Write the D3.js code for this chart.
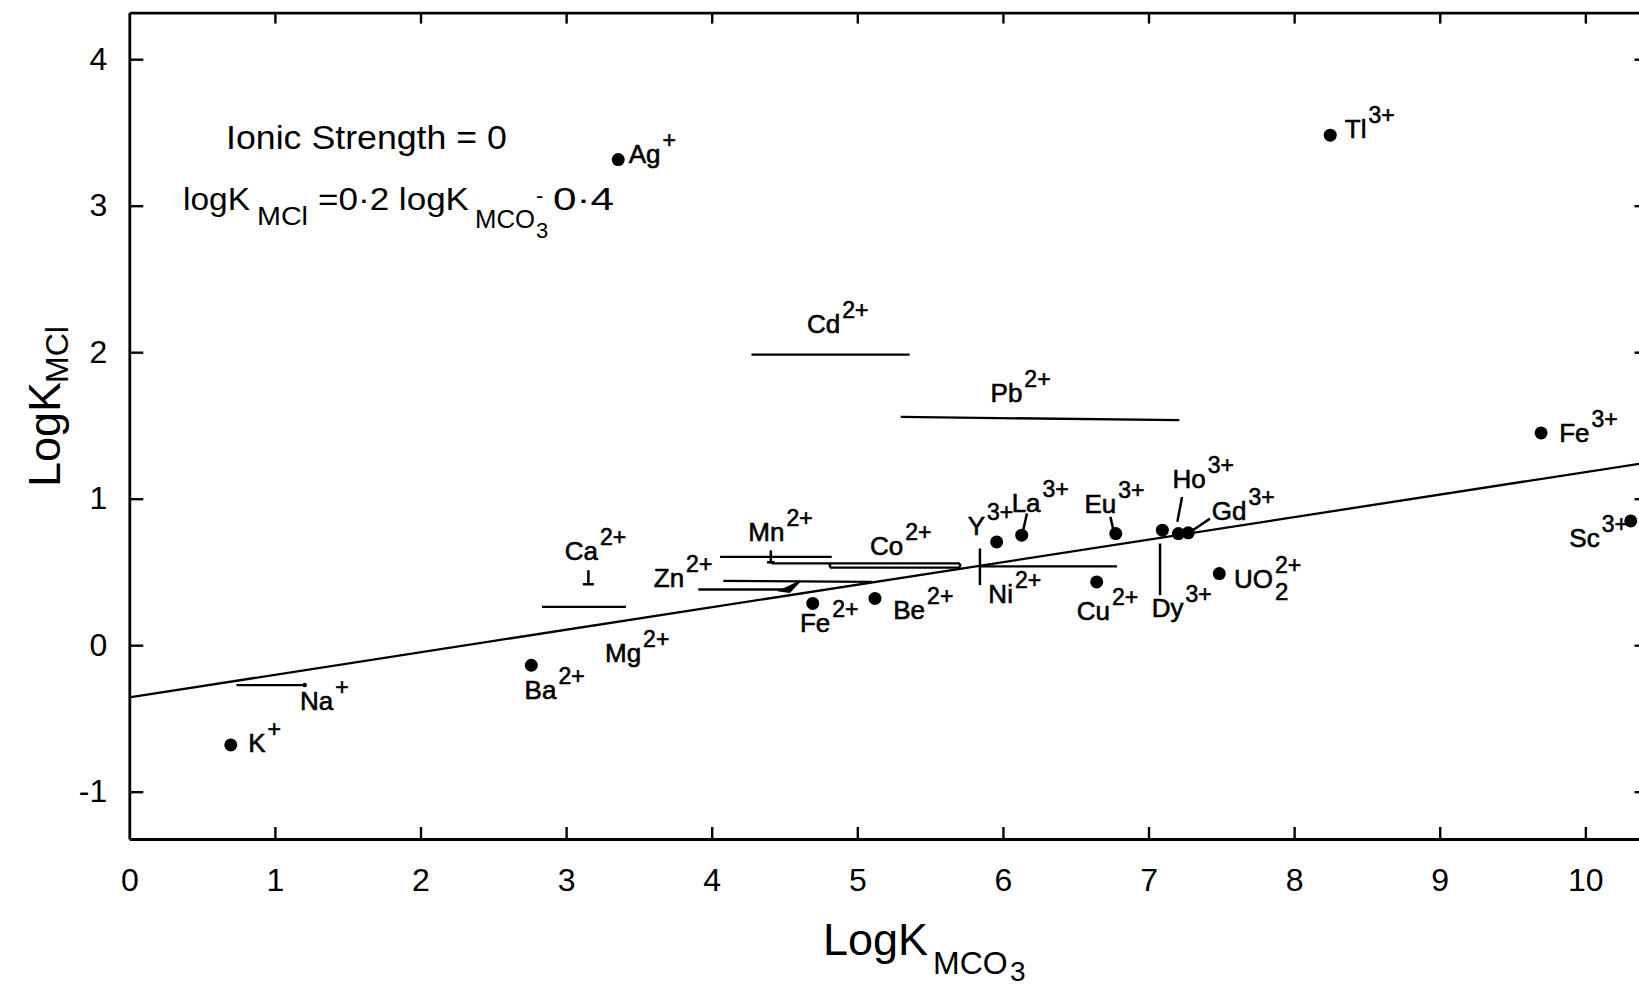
<!DOCTYPE html>
<html>
<head>
<meta charset="utf-8">
<script src="https://cdn.jsdelivr.net/npm/d3@7"></script>
<style>
  html, body { margin: 0; padding: 0; background: #fff; }
  svg { display: block; }
  text { font-family: "Liberation Sans", "DejaVu Sans", sans-serif; fill: #000; }
</style>
</head>
<body>
<svg id="chart" width="1639" height="988"></svg>
<script>
// ---------------- data ----------------
const xTicks = [0, 1, 2, 3, 4, 5, 6, 7, 8, 9, 10];
const yTicks = [-1, 0, 1, 2, 3, 4];
const xDomain = [0, 10.42];
const yDomain = [-1.323, 4.318];

// single-valued ions (filled dots): log K_MCO3, log K_MCl
const dotIons = ["K+", "Ag+", "Tl3+", "Fe3+", "Sc3+", "Ba2+", "Fe2+", "Be2+", "Y3+", "La3+", "Eu3+", "Cu2+", "Dy3+", "Ho3+", "Gd3+", "UO2 2+"];
const dotX = [0.697, 3.358, 8.248, 9.696, 10.312, 2.761, 4.694, 5.121, 5.957, 6.129, 6.775, 6.644, 7.095, 7.205, 7.273, 7.486];
const dotY = [-0.681, 3.315, 3.481, 1.449, 0.848, -0.137, 0.285, 0.319, 0.705, 0.751, 0.762, 0.432, 0.785, 0.762, 0.767, 0.489];

// ions known only as ranges of log K_MCO3 (horizontal bars)
const rangeIons = ["Na+", "Ca2+", "Cd2+", "Pb2+", "Mn2+", "Mn2+/Co2+", "Co2+", "Zn2+", "Zn2+", "Ni2+"];
const rangeX1 = [0.736, 2.834, 4.273, 5.298, 4.057, 4.412, 4.812, 4.080, 3.908, 5.842];
const rangeX2 = [1.205, 3.411, 5.359, 7.212, 4.824, 5.705, 5.705, 5.100, 4.500, 6.784];
const rangeY1 = [-0.272, 0.261, 1.984, 1.558, 0.603, 0.558, 0.530, 0.439, 0.380, 0.538];
const rangeY2 = [-0.272, 0.261, 1.984, 1.536, 0.603, 0.558, 0.530, 0.432, 0.380, 0.538];

// leader lines / small marks (data coordinates)
const leaderX1 = [6.139, 6.764, 7.198, 7.304, 7.079, 5.842, 3.153, 3.115, 4.406, 4.380, 4.812, 5.705];
const leaderY1 = [0.785, 0.762, 0.842, 0.785, 0.694, 0.660, 0.512, 0.416, 0.647, 0.566, 0.530, 0.530];
const leaderX2 = [6.165, 6.738, 7.230, 7.422, 7.079, 5.842, 3.153, 3.191, 4.406, 4.432, 4.812, 5.705];
const leaderY2 = [0.899, 0.876, 1.012, 0.864, 0.341, 0.410, 0.416, 0.416, 0.558, 0.566, 0.558, 0.558];

// Zn arrow head
const arrowX = [4.467, 4.606, 4.535];
const arrowY = [0.371, 0.437, 0.362];

// small end dot on the Na bar
const naDotX = [1.205];
const naDotY = [-0.272];

// drawn correlation line
const fitX = [0, 10.42];
const fitY = [-0.356, 1.246];

// ion labels: base, subscript, superscript, anchor (data coords, baseline-left)
const labelBase = ["K", "Na", "Ba", "Mg", "Ca", "Zn", "Mn", "Co", "Fe", "Be", "Y", "La", "Eu", "Ho", "Gd", "Ni", "Cu", "Dy", "UO", "Fe", "Sc", "Tl", "Ag", "Cd", "Pb"];
const labelSub  = ["", "", "", "", "", "", "", "", "", "", "", "", "", "", "", "", "", "", "2", "", "", "", "", "", ""];
const labelSup  = ["+", "+", "2+", "2+", "2+", "2+", "2+", "2+", "2+", "2+", "3+", "3+", "3+", "3+", "3+", "2+", "2+", "3+", "2+", "3+", "3+", "3+", "+", "2+", "2+"];
const labelX = [0.817, 1.172, 2.715, 3.267, 2.990, 3.602, 4.251, 5.087, 4.606, 5.247, 5.758, 6.060, 6.560, 7.164, 7.434, 5.900, 6.507, 7.022, 7.587, 9.820, 9.890, 8.348, 3.430, 4.654, 5.915];
const labelY = [-0.728, -0.444, -0.364, -0.114, 0.580, 0.398, 0.712, 0.614, 0.091, 0.182, 0.751, 0.910, 0.899, 1.076, 0.853, 0.285, 0.171, 0.193, 0.393, 1.388, 0.671, 3.459, 3.288, 2.128, 1.661];

// ---------------- layout ----------------
const svg = d3.select("#chart");
const pL = 129.3, pR = 1646.5, pT = 12.6, pB = 839;
const x = d3.scaleLinear().domain(xDomain).range([pL, pR]);
const y = d3.scaleLinear().domain(yDomain).range([pB, pT]);

// axes (frame with inward ticks)
const axStroke = 2.8;
const gB = svg.append("g").attr("transform", `translate(0,${pB})`)
  .call(d3.axisBottom(x).tickValues(xTicks).tickSizeInner(-12).tickSizeOuter(0).tickPadding(29).tickFormat(d => String(d)));
const gL = svg.append("g").attr("transform", `translate(${pL},0)`)
  .call(d3.axisLeft(y).tickValues(yTicks).tickSizeInner(-14).tickSizeOuter(0).tickPadding(22).tickFormat(d => String(d)));
const gT = svg.append("g").attr("transform", `translate(0,${pT})`)
  .call(d3.axisTop(x).tickValues(xTicks.filter(v => v > 0)).tickSizeInner(-11).tickSizeOuter(0).tickFormat(""));
const gR = svg.append("g").attr("transform", `translate(${pR},0)`)
  .call(d3.axisRight(y).tickValues(yTicks).tickSizeInner(-12).tickSizeOuter(0).tickFormat(""));
[gB, gL, gT, gR].forEach(g => {
  g.select(".domain").attr("stroke", "#000").attr("stroke-width", axStroke);
  g.selectAll(".tick line").attr("stroke", "#000").attr("stroke-width", 2.4);
  g.selectAll(".tick text").attr("font-size", 32).attr("font-family", "Liberation Sans, DejaVu Sans, sans-serif").attr("fill", "#000");
});
gB.selectAll(".tick").filter(d => d === 0).select("line").remove();

// axis titles
const xt = svg.append("g");
xt.append("text").attr("x", 823).attr("y", 955).attr("font-size", 45).text("LogK");
xt.append("text").attr("x", 933).attr("y", 974).attr("font-size", 32).text("MCO");
xt.append("text").attr("x", 1010).attr("y", 981).attr("font-size", 28).text("3");

const yt = svg.append("g").attr("transform", "translate(60,487) rotate(-90)");
yt.append("text").attr("x", 0).attr("y", 0).attr("font-size", 45).text("LogK");
yt.append("text").attr("x", 104).attr("y", 8).attr("font-size", 32).text("MCl");

// annotation text
const ann = svg.append("g");
ann.append("text").attr("x", 226).attr("y", 149).attr("font-size", 33)
  .attr("textLength", 281).attr("lengthAdjust", "spacingAndGlyphs").text("Ionic Strength = 0");
ann.append("text").attr("x", 183).attr("y", 210).attr("font-size", 32).attr("textLength", 67).attr("lengthAdjust", "spacingAndGlyphs").text("logK");
ann.append("text").attr("x", 257).attr("y", 225).attr("font-size", 26).attr("textLength", 51).attr("lengthAdjust", "spacingAndGlyphs").text("MCl");
ann.append("text").attr("x", 318).attr("y", 210).attr("font-size", 32).attr("textLength", 151).attr("lengthAdjust", "spacingAndGlyphs").text("=0·2 logK");
ann.append("text").attr("x", 475).attr("y", 228).attr("font-size", 26).attr("textLength", 60).attr("lengthAdjust", "spacingAndGlyphs").text("MCO");
ann.append("text").attr("x", 536).attr("y", 238).attr("font-size", 22).text("3");
ann.append("text").attr("x", 536).attr("y", 203).attr("font-size", 22).text("-");
ann.append("text").attr("x", 553).attr("y", 210).attr("font-size", 32).attr("textLength", 61).attr("lengthAdjust", "spacingAndGlyphs").text("0·4");

// correlation line
svg.append("path")
  .datum(fitX.map((v, i) => [v, fitY[i]]))
  .attr("fill", "none").attr("stroke", "#000").attr("stroke-width", 2.3)
  .attr("d", d3.line().x(d => x(d[0])).y(d => y(d[1])));

// range bars
svg.append("g").selectAll("line").data(rangeIons).join("line")
  .attr("x1", (d, i) => x(rangeX1[i])).attr("x2", (d, i) => x(rangeX2[i]))
  .attr("y1", (d, i) => y(rangeY1[i])).attr("y2", (d, i) => y(rangeY2[i]))
  .attr("stroke", "#000").attr("stroke-width", 2.3);

// leaders and marks
svg.append("g").selectAll("line").data(leaderX1).join("line")
  .attr("x1", (d, i) => x(leaderX1[i])).attr("x2", (d, i) => x(leaderX2[i]))
  .attr("y1", (d, i) => y(leaderY1[i])).attr("y2", (d, i) => y(leaderY2[i]))
  .attr("stroke", "#000").attr("stroke-width", 2.5);

// Zn arrow head
svg.append("path")
  .datum(arrowX.map((v, i) => [v, arrowY[i]]))
  .attr("fill", "#000").attr("stroke", "#000").attr("stroke-width", 1.5)
  .attr("d", d3.line().x(d => x(d[0])).y(d => y(d[1])).curve(d3.curveLinearClosed));

// Na end dot
svg.append("g").selectAll("circle").data(naDotX).join("circle")
  .attr("cx", (d, i) => x(naDotX[i])).attr("cy", (d, i) => y(naDotY[i])).attr("r", 2.2).attr("fill", "#000");

// data points
svg.append("g").selectAll("circle").data(dotIons).join("circle")
  .attr("cx", (d, i) => x(dotX[i])).attr("cy", (d, i) => y(dotY[i])).attr("r", 6.5).attr("fill", "#000");

// ion labels
const lg = svg.append("g").attr("stroke", "#000").attr("stroke-width", 0.6);
labelBase.forEach((b, i) => {
  const px = x(labelX[i]), py = y(labelY[i]);
  const t = lg.append("text").attr("x", px).attr("y", py).attr("font-size", 26).text(b);
  const w = t.node().getComputedTextLength();
  const cx = px + w + 2;
  if (labelSub[i]) lg.append("text").attr("x", cx).attr("y", py + 12).attr("font-size", 24).text(labelSub[i]);
  lg.append("text").attr("x", cx).attr("y", py - 15).attr("font-size", 23).text(labelSup[i]);
});
</script>
</body>
</html>
